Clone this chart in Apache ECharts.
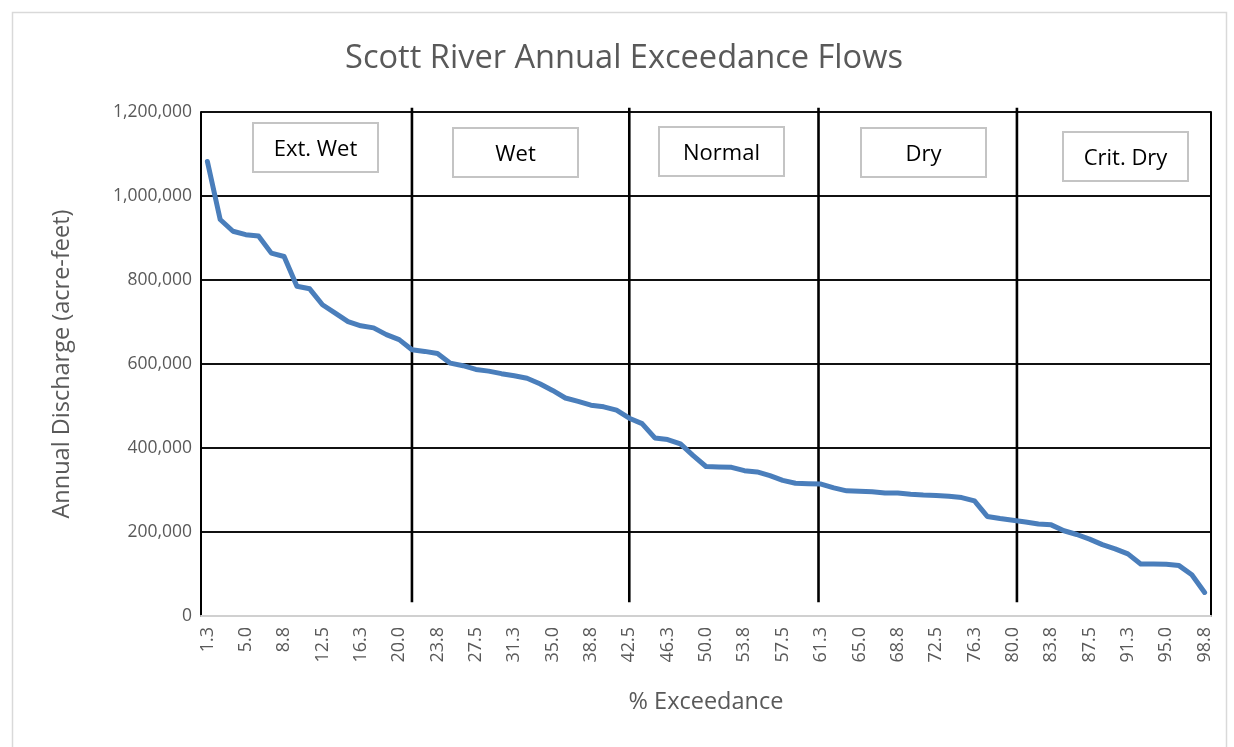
<!DOCTYPE html>
<html>
<head>
<meta charset="utf-8">
<title>Scott River Annual Exceedance Flows</title>
<script src="https://cdn.jsdelivr.net/npm/echarts@6/dist/echarts.min.js"></script>
<style>
  html, body { margin: 0; padding: 0; background: #fff; }
  #chart { width: 1234px; height: 747px; }
</style>
</head>
<body>
<div id="chart"></div>
<script>
// % exceedance categories (x axis)
const exceedance = [
  '1.3', '2.5', '3.8', '5.0', '6.3', '7.5', '8.8', '10.0', '11.3', '12.5',
  '13.8', '15.0', '16.3', '17.5', '18.8', '20.0', '21.3', '22.5', '23.8', '25.0',
  '26.3', '27.5', '28.8', '30.0', '31.3', '32.5', '33.8', '35.0', '36.3', '37.5',
  '38.8', '40.0', '41.3', '42.5', '43.8', '45.0', '46.3', '47.5', '48.8', '50.0',
  '51.3', '52.5', '53.8', '55.0', '56.3', '57.5', '58.8', '60.0', '61.3', '62.5',
  '63.8', '65.0', '66.3', '67.5', '68.8', '70.0', '71.3', '72.5', '73.8', '75.0',
  '76.3', '77.5', '78.8', '80.0', '81.3', '82.5', '83.8', '85.0', '86.3', '87.5',
  '88.8', '90.0', '91.3', '92.5', '93.8', '95.0', '96.3', '97.5', '98.8'
];

// annual discharge, acre-feet
const discharge = [
  1082000, 944000, 916000, 908000, 905000, 864000, 856000, 785000, 779000, 741000,
  721000, 701000, 691000, 686000, 670000, 658000, 634000, 630000, 625000, 602000,
  596000, 587000, 583000, 577000, 572000, 566000, 553000, 537000, 519000, 511000,
  502000, 498000, 490000, 471000, 458000, 424000, 420000, 410000, 382000, 356000,
  355000, 354000, 346000, 343000, 334000, 323000, 316000, 315000, 314000, 305000,
  298000, 297000, 296000, 293000, 293000, 290000, 288000, 287000, 285000, 282000,
  274000, 237000, 232000, 228000, 224000, 219000, 217000, 203000, 194000, 183000,
  170000, 160000, 148000, 124000, 124000, 123000, 120000, 98000, 56000
];

// year-type boundaries, in % exceedance
const classBreaks = [21.25, 42.5, 61.0, 80.4];
const classNames = ['Ext. Wet', 'Wet', 'Normal', 'Dry', 'Crit. Dry'];

const yTicks = { min: 0, max: 1200000, interval: 200000 };

/* ------------------------------ helpers ------------------------------ */
const gray = '#595959';
const font = '"Open Sans", "Noto Sans", sans-serif';

// text boxes, placed like the ones drawn on the original sheet
const boxPos = [
  [252, 122], [452, 127], [658, 126], [860, 127], [1062, 131]
];
const makeBox = (name, i) => ({
  type: 'group',
  left: boxPos[i][0],
  top: boxPos[i][1],
  z: 10,
  children: [
    {
      type: 'rect',
      shape: { x: 0, y: 0, width: 125, height: 49 },
      style: { fill: '#fff', stroke: '#c4c4c4', lineWidth: 2 }
    },
    {
      type: 'text',
      x: 62.5,
      y: 26.5,
      style: {
        text: name,
        fill: '#000',
        font: `22px ${font}`,
        align: 'center',
        verticalAlign: 'middle'
      }
    }
  ]
});

const chart = echarts.init(document.getElementById('chart'));

chart.setOption({
  animation: false,
  backgroundColor: '#fff',
  textStyle: { fontFamily: font },
  title: {
    text: 'Scott River Annual Exceedance Flows',
    left: 619,
    top: 37,
    textAlign: 'center',
    textStyle: { fontSize: 32.6, fontWeight: 'normal', color: gray, fontFamily: font }
  },
  grid: { left: 201, right: 23, top: 112, height: 504, containLabel: false },
  xAxis: [
    {
      type: 'category',
      data: exceedance,
      boundaryGap: true,
      z: 5,
      name: '% Exceedance',
      nameLocation: 'middle',
      nameGap: 74,
      nameTextStyle: { fontSize: 23.5, color: gray },
      axisLine: { show: true, lineStyle: { color: '#d0d0d0', width: 2 } },
      axisTick: { show: false },
      axisLabel: { interval: 2, rotate: 90, margin: 11, fontSize: 18, color: gray },
      splitLine: { show: false }
    },
    {
      type: 'value',
      min: 0.625,
      max: 99.375,
      show: false
    }
  ],
  yAxis: [
    {
      type: 'value',
      min: yTicks.min,
      max: yTicks.max,
      interval: yTicks.interval,
      name: 'Annual Discharge (acre-feet)',
      nameLocation: 'middle',
      nameGap: 127,
      nameTextStyle: { fontSize: 23.5, color: gray },
      axisLine: { show: true, lineStyle: { color: '#000', width: 2 } },
      axisTick: { show: false },
      axisLabel: {
        margin: 9,
        fontSize: 17.5,
        color: gray,
        formatter: v => v.toLocaleString('en-US')
      },
      splitLine: { show: true, showMinLine: false, lineStyle: { color: '#111', width: 2 } }
    },
    {
      type: 'value',
      position: 'right',
      min: yTicks.min,
      max: yTicks.max,
      interval: yTicks.interval,
      axisLine: { show: true, lineStyle: { color: '#000', width: 2 } },
      axisTick: { show: false },
      axisLabel: { show: false },
      splitLine: { show: false }
    }
  ],
  series: [
    {
      name: 'Class breaks',
      type: 'custom',
      xAxisIndex: 1,
      yAxisIndex: 0,
      z: 3,
      silent: true,
      data: classBreaks,
      renderItem: (params, api) => {
        const top = api.coord([api.value(0), 1210000]);
        const bottom = api.coord([api.value(0), 33000]);
        return {
          type: 'line',
          shape: { x1: top[0], y1: top[1], x2: bottom[0], y2: bottom[1] },
          style: { stroke: '#000', lineWidth: 2.6 }
        };
      }
    },
    {
      name: 'Annual discharge',
      type: 'line',
      data: discharge,
      z: 4,
      showSymbol: false,
      symbol: 'none',
      lineStyle: { color: '#4a7ebb', width: 5, join: 'round', cap: 'round' },
      itemStyle: { color: '#4a7ebb' }
    }
  ],
  graphic: [
    {
      type: 'rect',
      left: 10,
      top: 10,
      z: -1,
      shape: { x: 0, y: 0, width: 1214, height: 760 },
      style: { fill: 'none', stroke: '#d9d9d9', lineWidth: 1.5 }
    },
    ...classNames.map(makeBox)
  ]
});
</script>
</body>
</html>
